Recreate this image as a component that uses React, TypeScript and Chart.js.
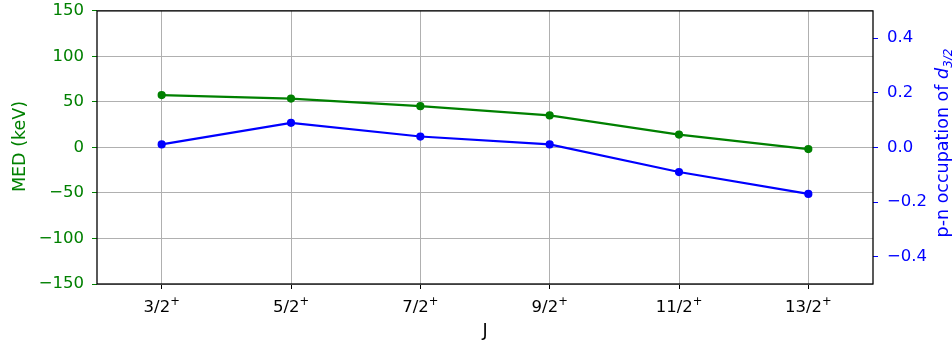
import React, { useEffect, useRef } from "react";
import { Chart, registerables } from "chart.js";

Chart.register(...registerables);

const categories = ["3/2", "5/2", "7/2", "9/2", "11/2", "13/2"];
const parity = "+";
const medValues = [57.5, 53.7, 45.3, 35.2, 14.1, -1.8];
const occupationValues = [0.011, 0.09, 0.04, 0.011, -0.09, -0.17];
const rightTickValues = [-0.4, -0.2, 0.0, 0.2, 0.4];

const GREEN = "#008000";
const BLUE = "#0000ff";
const FONT = "'DejaVu Sans', sans-serif";
const W = 952;
const H = 340;
// canvas extends above the page so the plot top lands close to the edge
const LIFT = 8;

const minus = (s: string) => s.replace("-", "\u2212");

// Frame around the plot area, spin labels with superscript parity, and axis titles.
const decorations = {
  id: "decorations",
  afterDraw(chart: any) {
    const { ctx, chartArea } = chart;
    const { left, right, top, bottom } = chartArea;
    ctx.save();
    ctx.strokeStyle = "#000";
    ctx.lineWidth = 1.3;
    ctx.strokeRect(left, top, right - left, bottom - top);
    ctx.translate(0, LIFT);

    // category labels J^π
    const xs = chart.scales.x;
    ctx.fillStyle = "#000";
    ctx.textBaseline = "alphabetic";
    ctx.textAlign = "left";
    categories.forEach((c, i) => {
      const px = xs.getPixelForTick(i);
      ctx.font = `16.5px ${FONT}`;
      const w1 = ctx.measureText(c).width;
      ctx.font = `11.5px ${FONT}`;
      const w2 = ctx.measureText(parity).width;
      const x0 = px - (w1 + w2) / 2;
      ctx.font = `16.5px ${FONT}`;
      ctx.fillText(c, x0, 311.5);
      ctx.font = `11.5px ${FONT}`;
      ctx.fillText(parity, x0 + w1, 304.5);
    });

    // x title
    ctx.font = `17.5px ${FONT}`;
    ctx.textAlign = "center";
    ctx.fillText("J", (left + right) / 2, 336);

    // left title
    ctx.save();
    ctx.translate(24.5, 146.5);
    ctx.rotate(-Math.PI / 2);
    ctx.fillStyle = GREEN;
    ctx.textAlign = "center";
    ctx.fillText("MED (keV)", 0, 0);
    ctx.restore();

    // right title with italic d and subscript 3/2
    ctx.save();
    ctx.translate(948, 143);
    ctx.rotate(-Math.PI / 2);
    ctx.fillStyle = BLUE;
    ctx.textAlign = "left";
    const main = "p-n occupation of ";
    ctx.font = `17.5px ${FONT}`;
    const wMain = ctx.measureText(main).width;
    ctx.font = `italic 17.5px ${FONT}`;
    const wD = ctx.measureText("d").width;
    ctx.font = `italic 12px ${FONT}`;
    const wSub = ctx.measureText("3/2").width;
    let x = -(wMain + wD + wSub) / 2;
    ctx.font = `17.5px ${FONT}`;
    ctx.fillText(main, x, 0);
    x += wMain;
    ctx.font = `italic 17.5px ${FONT}`;
    ctx.fillText("d", x, 0);
    x += wD;
    ctx.font = `italic 12px ${FONT}`;
    ctx.fillText("3/2", x, 3.5);
    ctx.restore();

    ctx.restore();
  },
};

export default function App() {
  const ref = useRef<HTMLCanvasElement | null>(null);

  useEffect(() => {
    if (!ref.current) return;
    const chart = new Chart(ref.current, {
      type: "line",
      data: {
        labels: categories,
        datasets: [
          {
            label: "MED",
            data: medValues,
            yAxisID: "y",
            borderColor: GREEN,
            backgroundColor: GREEN,
            borderWidth: 2.2,
            pointRadius: 3,
            pointHoverRadius: 3,
            tension: 0,
          },
          {
            label: "occupation",
            data: occupationValues,
            yAxisID: "y1",
            borderColor: BLUE,
            backgroundColor: BLUE,
            borderWidth: 2.2,
            pointRadius: 3,
            pointHoverRadius: 3,
            tension: 0,
          },
        ],
      },
      options: {
        responsive: false,
        animation: false,
        layout: { padding: { top: 3, left: 0, right: 0, bottom: 0 } },
        plugins: { legend: { display: false }, tooltip: { enabled: false } },
        scales: {
          x: {
            offset: true,
            grid: { color: "#b0b0b0", lineWidth: 1, tickColor: "#000", tickLength: 5 },
            border: { display: false },
            ticks: { display: false },
            afterFit(scale: any) {
              scale.height = 56;
            },
          },
          y: {
            position: "left",
            min: -150,
            max: 150,
            grid: { color: "#b0b0b0", lineWidth: 1, tickColor: GREEN, tickLength: 5 },
            border: { display: false },
            ticks: {
              stepSize: 50,
              color: GREEN,
              font: { family: FONT, size: 16.5 },
              padding: 8,
              callback: (v: any) => minus(String(v)),
            },
            afterFit(scale: any) {
              scale.width = 97;
            },
          },
          y1: {
            position: "right",
            min: -0.5,
            max: 0.5,
            grid: { drawOnChartArea: false, tickColor: BLUE, tickLength: 5 },
            border: { display: false },
            afterBuildTicks(scale: any) {
              scale.ticks = rightTickValues.map((v) => ({ value: v }));
            },
            ticks: {
              color: BLUE,
              font: { family: FONT, size: 16.5 },
              padding: 9,
              callback: (v: any) => minus(Number(v).toFixed(1)),
            },
            afterFit(scale: any) {
              scale.width = 79;
            },
          },
        },
      },
      plugins: [decorations],
    });
    return () => chart.destroy();
  }, []);

  return (
    <div style={{ position: "fixed", left: 0, top: -LIFT, width: W, height: H + LIFT, background: "#fff" }}>
      <canvas
        ref={ref}
        width={W}
        height={H + LIFT}
        style={{ width: W, height: H + LIFT, display: "block" }}
      />
    </div>
  );
}
